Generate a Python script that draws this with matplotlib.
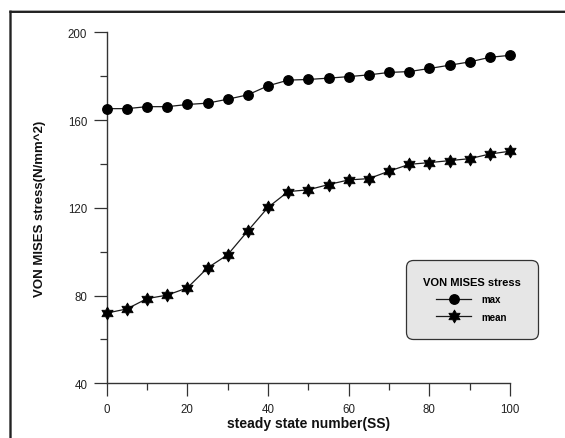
import matplotlib
matplotlib.use("Agg")
import matplotlib.pyplot as plt
from matplotlib.path import Path
from matplotlib.lines import Line2D
from matplotlib.ticker import MultipleLocator

plt.rcParams["font.family"] = ["Liberation Sans", "DejaVu Sans"]

# Steady state numbers and Von Mises stress values (N/mm^2)
ss = [0, 5, 10, 15, 20, 25, 30, 35, 40, 45, 50, 55, 60, 65, 70, 75, 80, 85, 90, 95, 100]
stress_max = [165.2, 165.2, 166.1, 166.1, 167.1, 167.7, 169.5, 171.5, 175.6, 178.2, 178.5,
              179.1, 179.8, 180.6, 181.7, 182.1, 183.5, 185.0, 186.5, 188.6, 189.5]
stress_mean = [72.0, 73.9, 78.6, 80.2, 83.5, 92.6, 98.6, 109.5, 120.2, 127.4, 128.2,
               130.6, 132.7, 133.3, 136.7, 139.8, 140.6, 141.5, 142.4, 144.5, 145.8]

W, H, DPI = 565, 439, 100
fig = plt.figure(figsize=(W / DPI, H / DPI), dpi=DPI)
ax = fig.add_axes([106.7 / W, 1 - 384.3 / H, (510 - 106.7) / W, (384.3 - 33.3) / H])

# six-pointed star marker
hexagram = Path.unit_regular_star(6, innerCircle=0.577)

ink = "#1a1a1a"
ax.plot(ss, stress_max, color=ink, lw=0.9, marker="o", ms=6.8, mfc="black",
        mec="black", label="max", clip_on=False, zorder=3)
ax.plot(ss, stress_mean, color=ink, lw=0.9, marker=hexagram, ms=9.3, mfc="black",
        mec="black", mew=0.6, label="mean", clip_on=False, zorder=3)

ax.set_xlim(0, 100)
ax.set_ylim(40, 200)
ax.xaxis.set_major_locator(MultipleLocator(20))
ax.xaxis.set_minor_locator(MultipleLocator(10))
ax.yaxis.set_major_locator(MultipleLocator(40))
ax.yaxis.set_minor_locator(MultipleLocator(20))

for side in ("top", "right"):
    ax.spines[side].set_visible(False)
for side in ("left", "bottom"):
    ax.spines[side].set_color("#333333")
    ax.spines[side].set_linewidth(1.0)

ax.tick_params(which="major", direction="out", length=9.5, width=0.9, color="#333333",
               labelsize=8.3, labelcolor="#222222", pad=4.5)
ax.tick_params(which="minor", direction="out", length=5, width=0.9, color="#333333")

ax.set_xlabel("steady state number(SS)", fontsize=10, fontweight="bold", color="#111111")
ax.set_ylabel("VON MISES stress(N/mm^2)", fontsize=9.5, fontweight="bold", color="#111111")
ax.xaxis.label.set_va("center")
ax.xaxis.set_label_coords(0.5, -(424 - 384.3) / (384.3 - 33.3))
ax.yaxis.label.set_va("center")
ax.yaxis.set_label_coords(-(106.7 - 40) / (510 - 106.7), 0.5)

leg = ax.legend(
    title="VON MISES stress",
    loc="upper left",
    bbox_to_anchor=((405.7 - 106.7) / (510 - 106.7), 1 - (261 - 33.3) / (384.3 - 33.3)),
    prop={"size": 7, "weight": "bold"},
    title_fontproperties={"size": 8, "weight": "bold"},
    frameon=True, fancybox=True, borderpad=1.75, handlelength=3.6,
    handletextpad=1.05, labelspacing=0.75, borderaxespad=0,
)
frame = leg.get_frame()
frame.set_boxstyle("round", pad=0, rounding_size=0.7)
frame.set_facecolor("#e6e6e6")
frame.set_edgecolor("#333333")
frame.set_linewidth(0.9)
frame.set_alpha(1)

# outer border of the figure panel: left and top edges only
x0, y0 = 10.5 / W, 1 - 12.8 / H
border = dict(transform=fig.transFigure, color="#222222", linewidth=1.7,
              solid_capstyle="projecting", snap=False)
fig.add_artist(Line2D([x0, x0], [1.0 / H, y0], **border))
fig.add_artist(Line2D([x0, 1 - 1.0 / W], [y0, y0], **border))

fig.savefig("out.png", dpi=DPI)
